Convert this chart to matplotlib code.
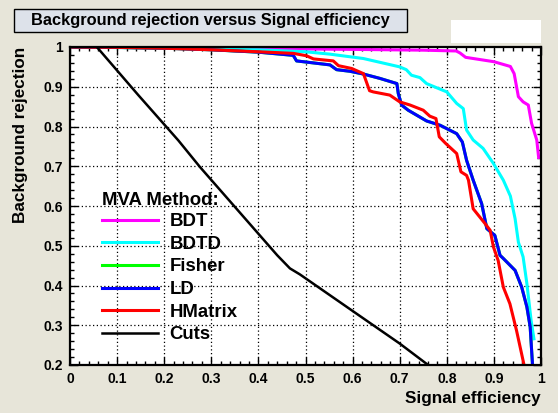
import numpy as np
import matplotlib
matplotlib.use('Agg')
import matplotlib.pyplot as plt
from matplotlib.patches import Rectangle
from matplotlib.ticker import MultipleLocator

plt.rcParams['font.family'] = ['Liberation Sans', 'DejaVu Sans']
plt.rcParams['font.weight'] = 'bold'

# ROC curves: signal efficiency -> background rejection
bdt_eff = [0, 0.2, 0.4, 0.6, 0.75, 0.82, 0.828, 0.84, 0.9, 0.935, 0.943, 0.952, 0.962, 0.973, 0.98, 0.991, 0.995]
bdt_rej = [1.0, 0.998, 0.996, 0.994, 0.992, 0.99, 0.985, 0.974, 0.963, 0.951, 0.933, 0.875, 0.862, 0.854, 0.808, 0.766, 0.722]

bdtd_eff = [0, 0.2, 0.4, 0.5, 0.552, 0.623, 0.70, 0.714, 0.725, 0.743, 0.757, 0.80, 0.821, 0.835, 0.842,
            0.856, 0.877, 0.899, 0.92, 0.935, 0.945, 0.952, 0.962, 0.97, 0.979, 0.985]
bdtd_rej = [1.0, 0.997, 0.993, 0.988, 0.982, 0.971, 0.950, 0.943, 0.929, 0.923, 0.908, 0.887, 0.858, 0.845, 0.791,
            0.766, 0.745, 0.707, 0.665, 0.625, 0.568, 0.509, 0.472, 0.405, 0.312, 0.266]

ld_eff = [0, 0.1, 0.2, 0.3, 0.4, 0.474, 0.481, 0.552, 0.566, 0.594, 0.623, 0.658, 0.694, 0.697, 0.704, 0.718,
          0.757, 0.786, 0.821, 0.833, 0.842, 0.856, 0.874, 0.885, 0.902, 0.913, 0.92, 0.945, 0.959, 0.97, 0.977, 0.982]
ld_rej = [1.0, 0.999, 0.997, 0.993, 0.987, 0.979, 0.965, 0.955, 0.943, 0.939, 0.932, 0.921, 0.908, 0.883, 0.854, 0.841,
          0.814, 0.803, 0.782, 0.761, 0.715, 0.665, 0.606, 0.543, 0.526, 0.476, 0.468, 0.438, 0.396, 0.346, 0.296, 0.2]

# Fisher sits exactly under LD in the picture
fisher_eff = list(ld_eff)
fisher_rej = list(ld_rej)

hm_eff = [0, 0.1, 0.2, 0.3, 0.4, 0.474, 0.502, 0.517, 0.559, 0.57, 0.598, 0.623, 0.636, 0.644, 0.679, 0.70,
          0.722, 0.75, 0.764, 0.777, 0.784, 0.798, 0.821, 0.830, 0.842, 0.846, 0.856, 0.881, 0.892, 0.899,
          0.909, 0.92, 0.934, 0.948, 0.964]
hm_rej = [1.0, 0.999, 0.997, 0.993, 0.988, 0.984, 0.978, 0.970, 0.965, 0.953, 0.946, 0.933, 0.890, 0.887, 0.879, 0.862,
          0.854, 0.841, 0.826, 0.820, 0.774, 0.757, 0.732, 0.686, 0.677, 0.665, 0.593, 0.556, 0.539, 0.497,
          0.463, 0.396, 0.354, 0.287, 0.2]

cuts_eff = [0.057, 0.145, 0.23, 0.276, 0.44, 0.467, 0.488, 0.6, 0.7, 0.757, 0.77]
cuts_rej = [1.0, 0.879, 0.765, 0.698, 0.476, 0.443, 0.428, 0.336, 0.254, 0.203, 0.19]

x_ticks = [0, 0.1, 0.2, 0.3, 0.4, 0.5, 0.6, 0.7, 0.8, 0.9, 1]
x_labels = ['0', '0.1', '0.2', '0.3', '0.4', '0.5', '0.6', '0.7', '0.8', '0.9', '1']
y_ticks = [0.2, 0.3, 0.4, 0.5, 0.6, 0.7, 0.8, 0.9, 1]
y_labels = ['0.2', '0.3', '0.4', '0.5', '0.6', '0.7', '0.8', '0.9', '1']

W, H = 558, 413
fig = plt.figure(figsize=(W/100, H/100), dpi=100)
fig.patch.set_facecolor('#e7e5d9')
ax = fig.add_axes([70/W, 1-365/H, 471/W, 318/H])
ax.set_facecolor('white')

# dotted grid at the major ticks
for xt in x_ticks[1:-1]:
    ax.axvline(xt, color='black', linestyle=(0, (1, 2)), lw=0.9, zorder=1)
for yt in y_ticks[1:-1]:
    ax.axhline(yt, color='black', linestyle=(0, (1, 2)), lw=0.9, zorder=1)

ax.plot(bdt_eff, bdt_rej, color='#ff00ff', lw=2.2, label='BDT', zorder=3)
ax.plot(bdtd_eff, bdtd_rej, color='#00ffff', lw=2.2, label='BDTD', zorder=3)
ax.plot(fisher_eff, fisher_rej, color='#00ff00', lw=2.2, label='Fisher', zorder=3)
ax.plot(ld_eff, ld_rej, color='#0000ff', lw=2.2, label='LD', zorder=3)
ax.plot(hm_eff, hm_rej, color='#ff0000', lw=2.2, label='HMatrix', zorder=3)
ax.plot(cuts_eff, cuts_rej, color='black', lw=1.8, label='Cuts', zorder=3)

ax.set_xlim(0, 1)
ax.set_ylim(0.2, 1)
ax.set_xticks(x_ticks)
ax.set_xticklabels(x_labels)
ax.set_yticks(y_ticks)
ax.set_yticklabels(y_labels)
ax.xaxis.set_minor_locator(MultipleLocator(0.02))
ax.yaxis.set_minor_locator(MultipleLocator(0.02))
ax.tick_params(which='both', direction='in', top=True, right=True, labelsize=10, width=1.0)
ax.tick_params(which='major', length=6, pad=5)
ax.tick_params(which='minor', length=3)
for s in ax.spines.values():
    s.set_linewidth(1.6)
    s.set_zorder(4)

ax.set_xlabel('Signal efficiency', fontsize=12.3, fontweight='bold', loc='right', labelpad=4)
ax.set_ylabel('Background rejection', fontsize=12.3, fontweight='bold', loc='top', labelpad=11)

leg = ax.legend(loc='upper left', bbox_to_anchor=(32/471, 1-145/318), frameon=False,
                title='MVA Method:', prop={'size': 13.4, 'weight': 'bold'},
                handlelength=3.0, handletextpad=0.62, labelspacing=0.3, borderpad=0, borderaxespad=0)
leg.get_title().set_fontsize(13.4)
leg.get_title().set_fontweight('bold')
leg._legend_box.align = 'left'
leg._legend_box.sep = 3

# title box and the white box next to it
fig.patches.append(Rectangle((14/W, 1-32/H), 393/W, 23/H, transform=fig.transFigure,
                             facecolor='#dde2ea', edgecolor='black', lw=1.0))
fig.text(210/W, 1-20.5/H, 'Background rejection versus Signal efficiency', ha='center', va='center',
         fontsize=11.8, fontweight='bold')
fig.patches.append(Rectangle((451/W, 1-43/H), 90/W, 23/H, transform=fig.transFigure,
                             facecolor='white', edgecolor='none'))

plt.savefig('out.png', dpi=100, facecolor=fig.get_facecolor())
